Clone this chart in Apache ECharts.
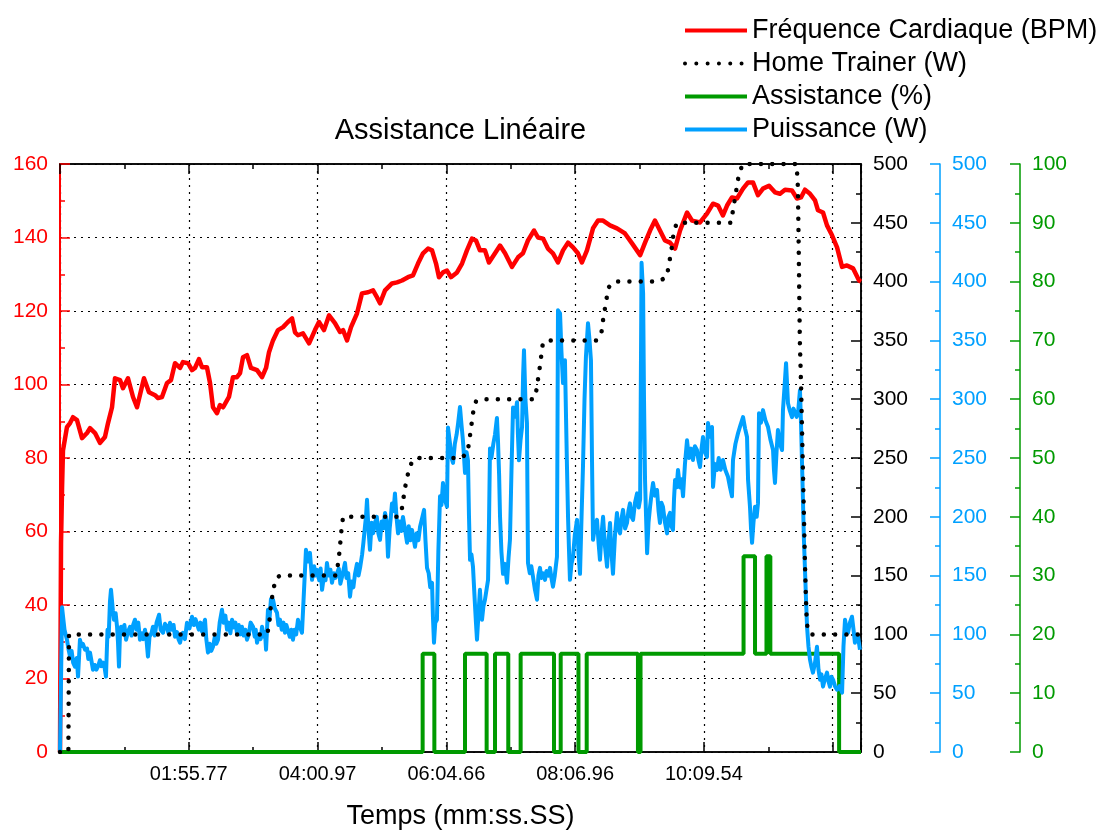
<!DOCTYPE html>
<html>
<head>
<meta charset="utf-8">
<title>Assistance Linéaire</title>
<script src="https://cdn.jsdelivr.net/npm/echarts@6/dist/echarts.min.js"></script>
<style>
  html, body { margin: 0; padding: 0; background: #fff; }
  #chart { width: 1107px; height: 835px; }
</style>
</head>
<body>
<div id="chart"></div>
<script>
// x values are sample indices; tick labels give the elapsed time at each major tick
const xTickLabels = ['', '01:55.77', '04:00.97', '06:04.66', '08:06.96', '10:09.54', ''];

// Fréquence cardiaque (BPM): [sample, bpm]
const heartRate = [
  [0, 0], [0.8, 57], [1.6, 72], [2.3, 82], [5.4, 88.4], [7.8, 89.5], [10.1, 91.1], [13.2, 90.3],
  [17.1, 85.4], [21, 86.8], [23.3, 88.1], [27.2, 86.8], [31.1, 84.1], [34.9, 85.7], [37.3, 89.5],
  [40.4, 93.8], [42.7, 101.7], [46.6, 101.2], [48.9, 99], [52.8, 101.7], [56.7, 96.6], [59.8, 93.8],
  [61.3, 93.8], [65.2, 101.7], [69.1, 97.9], [73.8, 97.1], [76.1, 96.3], [79.2, 96.6], [83.1, 100.4],
  [86.2, 101.2], [89.3, 105.8], [93.2, 104.5], [95.5, 106.1], [99.4, 105.8], [102.5, 103.9],
  [104.8, 104.5], [107.9, 106.9], [110.3, 104.7], [114.1, 104.7], [116.5, 100.4], [118.8, 93.8],
  [121.9, 92.2], [124.2, 94.4], [126.6, 93.8], [131.2, 96.6], [134.3, 102], [137.4, 102],
  [139.8, 103.1], [142.1, 107.4], [145.2, 108], [148.3, 104.5], [153, 103.9], [156.9, 102],
  [160, 104.5], [162.3, 108.8], [165.4, 112], [169.3, 114.8], [173.2, 115.6], [177, 117],
  [180.2, 118], [182.5, 114.2], [184.8, 113.4], [188.7, 113.9], [193.4, 111.2], [198, 114.8],
  [201.1, 117], [205, 114.8], [208.9, 118.8], [213.5, 116.7], [217.4, 114.3], [219.8, 114.8],
  [222.9, 112], [226, 115.6], [230.6, 119.3], [234.5, 124.8], [239.2, 125.1], [243.1, 125.6],
  [246.2, 123.7], [248.5, 122.1], [252.4, 125.6], [257.8, 127.5], [261.7, 127.8], [265.6, 128.3],
  [270.2, 129.2], [274.1, 129.7], [278, 132.9], [281.9, 135.7], [285.8, 137], [288.9, 136.5],
  [292, 132.9], [294.3, 129.2], [297.4, 130.5], [300.5, 131], [303.6, 129.2], [308.3, 130.5],
  [312.2, 132.9], [316, 136.5], [319.9, 139.7], [323, 139.2], [326.1, 136.5], [330, 136.5],
  [333.1, 133.2], [337.8, 135.7], [341.7, 137.8], [345.6, 135.7], [351, 132], [355.7, 134.6],
  [359.5, 135.7], [363.4, 139.2], [368.1, 141.9], [371.2, 140], [375.1, 139.7], [378.9, 137],
  [382.8, 135.7], [386.7, 133.2], [390.6, 136.5], [394.5, 138.6], [398.4, 137.3], [402.2, 135.7],
  [405.3, 133.2], [409.2, 136.5], [413.9, 142.5], [417.8, 144.6], [421.7, 144.6], [427.1, 143.3],
  [432.5, 142.5], [438.7, 141.1], [444.2, 138.4], [450.5, 135.2], [454.3, 138.6], [458.2, 141.9],
  [462, 144.6], [465.9, 141.9], [469.8, 139.2], [473.7, 138.6], [477.6, 137], [481.5, 141.9],
  [486.9, 146.8], [490.8, 144.6], [497, 144.1], [502.4, 146.5], [507.1, 149.2], [511, 148.7],
  [514.8, 146], [518, 148.7], [521.8, 150.9], [525.7, 150.6], [530.4, 153.3], [534.3, 155],
  [538.1, 155], [542, 151.5], [545.9, 153.3], [550.6, 154.1], [555.2, 152.3], [559.1, 151.9],
  [563, 153], [568.4, 152.8], [572.3, 150.6], [575.4, 150.9], [578.5, 153], [582.4, 151.9],
  [586.3, 150.1], [588.6, 147.4], [592.5, 146.8], [595.6, 143.3], [599.5, 140.6], [603.4, 137.3],
  [607.3, 132], [611.1, 132.4], [615.8, 131.6], [620.5, 128.3], [622, 128]
];

// Consigne du home trainer (W): [sample, watts]
const homeTrainer = [
  [0, 0], [6.5, 0], [7, 100], [161, 100], [162.5, 110], [164, 127], [166, 140], [168, 148], [170.8, 150],
  [214, 150], [215.5, 157], [217, 170], [218.5, 188], [219.8, 200],
  [262.5, 200], [265.5, 207], [267, 218], [268.5, 228], [270.5, 238], [273, 246], [276, 250],
  [312, 250], [316.5, 255], [318, 266], [319.5, 278], [321, 290], [323, 298], [326, 300],
  [368, 300], [370.5, 310], [371.5, 320], [373, 330], [374, 340], [375, 348], [378, 350],
  [417, 350], [420.5, 357], [421.5, 366], [423, 376], [424.5, 386], [426, 395], [430, 400],
  [465, 400], [471, 404], [472.5, 412], [474, 422], [475.5, 432], [476.5, 442], [479, 450],
  [521, 450], [522.5, 460], [524, 470], [525.5, 480], [527, 490], [530, 500],
  [572, 500], [573, 480], [573.5, 440], [574, 395], [574.5, 350], [575.5, 310], [576.5, 260],
  [577.5, 210], [578.5, 160], [579.5, 120], [580.5, 104], [583, 100], [622, 100]
];

// Niveau d'assistance (%): [sample, percent]
const assistance = [
  [0, 0], [281.6, 0], [281.6, 16.7], [290.7, 16.7], [290.7, 0],
  [314.5, 0], [314.5, 16.7], [331.3, 16.7], [331.3, 0],
  [337.8, 0], [337.8, 16.7], [348.1, 16.7], [348.1, 0],
  [357.7, 0], [357.7, 16.7], [383.6, 16.7], [383.6, 0],
  [388.8, 0], [388.8, 16.7], [402.6, 16.7], [402.6, 0],
  [409, 0], [409, 16.7], [448.8, 16.7], [448.8, 0], [450.8, 0], [450.8, 16.7],
  [530.8, 16.7], [530.8, 33.3], [539.7, 33.3], [539.7, 16.7],
  [548.6, 16.7], [548.6, 33.3], [551.6, 33.3], [551.6, 16.7],
  [605, 16.7], [605, 0], [622, 0]
];

// Puissance mesurée (W): [sample, watts]
const power = [
  [0, 0], [1.2, 0], [1.6, 123], [2.3, 122.6], [3.5, 104], [5.4, 95.5], [6.5, 88], [7.8, 81.1],
  [9, 86], [10.2, 76], [11.6, 72.6], [13, 80], [14, 64.1], [15.5, 95.5], [16.6, 90], [17.8, 92],
  [19.4, 87], [21, 88], [22, 79], [23.3, 84.5], [24.5, 77], [25.6, 70], [27, 74], [28.2, 70],
  [29.5, 72.6], [31, 78], [32.2, 73], [33.4, 76], [34.6, 72], [35.7, 64.1], [36.9, 104], [37.8, 98],
  [38.8, 128], [39.6, 138], [40.4, 137.9], [41.1, 120], [41.9, 112.5], [43.2, 118], [44.3, 106.5],
  [45, 94], [45.8, 72.6], [46.5, 98], [47.4, 106.5], [48.6, 101], [50, 108], [51.3, 95.5],
  [52.7, 102], [54.4, 106.5], [55.5, 99], [56.8, 108], [58.2, 112.5], [59.5, 104], [60.8, 110],
  [62.1, 95.5], [63.5, 101], [64.8, 96], [66, 104], [67.2, 95], [68.3, 81.1], [69.5, 98],
  [71, 101], [72.2, 106.5], [73.6, 99], [75, 110], [76.9, 116.7], [78.2, 104], [80, 101.4],
  [81.5, 109], [83.1, 106.5], [84.2, 101], [85.4, 109.9], [87, 104], [88.2, 108], [89.3, 98],
  [90.8, 102], [92, 96], [93.2, 92.9], [94.4, 99], [95.5, 101.4], [97, 96], [98.6, 110],
  [100.5, 105], [102.5, 115], [104, 108], [105.2, 113], [106.4, 112.5], [107.8, 104],
  [109, 110], [110.3, 102.3], [111.5, 108], [112.6, 112.5], [113.6, 96], [114.9, 84.5],
  [116.2, 92], [117.5, 86], [118.8, 89.5], [120.2, 98], [121.4, 92], [122.7, 95.5], [124, 110],
  [125.8, 121], [127, 110], [128.4, 116], [129.7, 104], [131, 110], [132.3, 101], [133.6, 112.5],
  [135, 106], [136.2, 110], [137.4, 101.4], [138.8, 108], [140, 100], [141.3, 106.5],
  [142.6, 99], [143.9, 104], [145.2, 95.5], [146.6, 100], [148, 110], [149.9, 106.5],
  [151.2, 98], [152, 104], [153, 92.9], [154.5, 100], [155.8, 96], [156.9, 106.5], [158.2, 98],
  [159.2, 102], [160, 87], [161.5, 121], [162.6, 112], [163.8, 130], [165.4, 129.5],
  [166.8, 122], [168.5, 118.4], [169.6, 108], [170.8, 112.5], [172.2, 104], [173.5, 110],
  [174.7, 101.4], [175.8, 108], [177, 106.5], [178.4, 98], [179.6, 104], [180.9, 95.5],
  [182, 104], [183.4, 100], [184.8, 112.5], [186.4, 106], [187.9, 101.4], [189.5, 137.9],
  [191, 171.9], [192.6, 162], [194.1, 169.3], [195.7, 146.4], [197.3, 158], [198.5, 150],
  [199.6, 154.9], [201.3, 146], [202.4, 156], [203.5, 137.9], [205, 150], [206.2, 146],
  [207.3, 160.8], [208.6, 150], [210, 155], [211.2, 143.9], [212.6, 152], [213.8, 148],
  [215.1, 146.4], [216.5, 156], [217.7, 143], [219, 149], [220.2, 155], [221.3, 160.8],
  [222.5, 148], [223.8, 152], [225.2, 132.1], [226.5, 145], [227.8, 140], [229.1, 151.5],
  [230.6, 160], [231.8, 150], [233, 156.6], [234.6, 168], [235.6, 178], [236.8, 191.5],
  [237.6, 200], [238.4, 214.4], [239.5, 190], [240.7, 171.9], [242, 195], [243.2, 186],
  [244.6, 194.8], [246, 200], [247.2, 186], [248.5, 180.4], [249.8, 196], [251, 190],
  [252.4, 203.3], [253.6, 196], [254.7, 166], [256, 190], [256.9, 200], [257.8, 211.4],
  [259, 205], [260.1, 219.9], [261.3, 200], [262.5, 185.9], [263.8, 196], [265, 188],
  [266.3, 199.9], [267.8, 190], [269.5, 177.9], [270.8, 192], [272, 180], [273.3, 188.9],
  [274.5, 182], [275.7, 174.5], [277, 186], [278.3, 180], [279.6, 191.5], [281, 198],
  [282.7, 205.9], [283.8, 180], [285, 156.6], [286.3, 152], [287.5, 140], [288.9, 143.9],
  [289.6, 115], [290.4, 92.9], [291.4, 110], [292.7, 112.5], [293.8, 170], [295.1, 217.4],
  [296.2, 210], [297.4, 228.8], [298.8, 215], [300.5, 208.5], [301.3, 276], [302.8, 262.8],
  [304, 250], [305.2, 245.8], [306.6, 262], [308, 270], [309.2, 280], [310.6, 293.3],
  [311.8, 278], [312.9, 265], [313.8, 250], [314.5, 237.3], [315.7, 255], [316.8, 248],
  [317.6, 200], [318.4, 163.4], [319.5, 168], [320.7, 157.5], [322, 130], [323, 110],
  [323.8, 95.5], [325, 118], [326.1, 137.9], [327, 120], [327.7, 112.5], [328.8, 124],
  [330, 129.5], [331.2, 138], [332.4, 146.4], [333.2, 200], [333.9, 258], [335, 250],
  [336.5, 262], [337.8, 270], [339.3, 284], [340.1, 265], [341, 235], [341.7, 200],
  [342.8, 170], [344, 151.5], [345.5, 160], [347.1, 143.9], [348.3, 165], [349.4, 180.4],
  [350.6, 240], [351.8, 293], [353.3, 285], [354.9, 297.5], [355.6, 270], [356.4, 248],
  [357.6, 265], [358.8, 276.3], [359.6, 320], [360.3, 341.7], [361.4, 300], [362.6, 279.7],
  [363, 220], [363.4, 160.8], [364.8, 152], [366, 158], [367.3, 149], [368.8, 138],
  [370.4, 129.5], [371.5, 150], [372.7, 156.6], [373.8, 148], [375.2, 152], [376.6, 146.4],
  [377.8, 154], [379.2, 150], [380.5, 156.6], [381.6, 148], [382.8, 140.5], [384.2, 150],
  [385.9, 166], [386.7, 375.6], [388.3, 373], [389.4, 340], [390.6, 313.7], [392.1, 333.2],
  [393.7, 242], [394.5, 200], [395.3, 170], [396, 146.4], [397.2, 160], [398.4, 166],
  [399.8, 185], [401.5, 197.4], [402.6, 170], [403.8, 151.5], [405, 200], [406.1, 242.4],
  [407.3, 300], [408.4, 336], [410, 364.6], [411.2, 350], [412.3, 333], [413.1, 250],
  [413.9, 180.4], [415.4, 192], [417, 197.4], [418.2, 178], [419.3, 163.4], [420.5, 185],
  [421.7, 200], [423.2, 175], [424.8, 157.5], [426, 180], [427.1, 194.8], [428.2, 170],
  [429.4, 151.5], [431, 185], [432.5, 203.3], [433.6, 190], [434.9, 185.9], [436, 198],
  [437.2, 205.9], [438.8, 190], [440.3, 194.8], [441.4, 205], [442.6, 211.4], [443.8, 200],
  [445, 197.4], [446.5, 212], [448.1, 219.9], [449.4, 208], [450.5, 215], [451.6, 416],
  [452.8, 390], [453.5, 300], [454.3, 231], [455.1, 200], [455.9, 169], [457, 195],
  [458.2, 208.5], [459.4, 220], [460.5, 228.8], [462, 218], [463.6, 222.8], [464.8, 205],
  [465.9, 194.8], [467, 212], [468.2, 208.5], [469.8, 195], [471.4, 185.9], [472.5, 200],
  [473.7, 203.3], [474.8, 192], [476, 188.9], [476.8, 215], [477.6, 231.3], [478.8, 225],
  [479.9, 239.8], [481.4, 225], [482.6, 232], [483.8, 217.4], [485.3, 245], [486.9, 265],
  [488.4, 250], [490, 258], [491.5, 248.3], [493, 260], [494.6, 256.8], [495.8, 248],
  [497, 242.4], [498.2, 258], [499.3, 267.8], [500.8, 255], [502.4, 250.8], [503.2, 279.7],
  [504.8, 268], [506.3, 276.3], [507.1, 225.4], [508.6, 245], [510.2, 239.8], [511.5, 250],
  [513, 240], [514.8, 248.3], [516.6, 240], [518.7, 234], [520.3, 225], [521.8, 217.4],
  [522.6, 248.3], [524.5, 262], [526.5, 271], [528.4, 278], [530.4, 284.8], [532, 275],
  [533.5, 267.8], [534.3, 231.3], [535.8, 208.5], [536.6, 190], [537.4, 177.9], [538.5, 195],
  [539.7, 208.5], [541, 200], [542, 211.4], [542.8, 288], [544.3, 280], [545.9, 290.7],
  [547.8, 282], [549.8, 276.3], [551.8, 265], [553.7, 256.8], [554.4, 240], [555.2, 228.8],
  [556.4, 255], [557.5, 273.8], [559.1, 262], [560.7, 256.8], [561.4, 290.7], [562.6, 310],
  [563.8, 330.6], [565.3, 296.6], [566.8, 290], [568.4, 284.8], [569.6, 292], [570.8, 293.3],
  [572, 285], [573.1, 288.2], [574.6, 307.7], [575.4, 280], [576.2, 245.8], [577.7, 180],
  [579.3, 130], [580.1, 106.5], [581.2, 90], [582.4, 78.5], [583.6, 72], [584.7, 67.5],
  [586.2, 75], [587.8, 89.5], [589, 70], [590.2, 61.5], [591.3, 66], [592.5, 55.6], [594, 62],
  [595.6, 67.5], [596.8, 60], [597.9, 55.6], [599, 64], [600.3, 61.5], [601.8, 56], [603.4, 53],
  [605.3, 56], [607.3, 50.5], [608.4, 90], [609.6, 112.5], [610.8, 104], [611.9, 101.4],
  [613.4, 110], [615, 115], [616.2, 104], [617.3, 92.9], [618.5, 100], [619.7, 98], [621.2, 87]
];

const FONT = '"Liberation Sans", Arial, sans-serif';
const RED = '#ff0000';
const BLUE = '#00a0ff';
const GREEN = '#009a00';
const BLACK = '#000000';

function sideAxis(color, max, interval, extra) {
  return Object.assign({
    type: 'value',
    min: 0,
    max: max,
    interval: interval,
    axisLine: { show: true, onZero: false, lineStyle: { color: color, width: 1.5 } },
    axisTick: { show: true, inside: true, length: 10, lineStyle: { color: color, width: 1.5 } },
    minorTick: { show: true, splitNumber: 2, length: 5, lineStyle: { color: color, width: 1.5 } },
    axisLabel: { color: color, fontSize: 21, fontFamily: FONT, margin: 12 },
    splitLine: { show: false }
  }, extra);
}

const chart = echarts.init(document.getElementById('chart'), null, { renderer: 'canvas' });

chart.setOption({
  animation: false,
  backgroundColor: '#ffffff',
  textStyle: { fontFamily: FONT },
  graphic: [{
    type: 'text',
    x: 460.5,
    y: 131,
    style: {
      text: 'Assistance Linéaire',
      fill: BLACK,
      font: '29px ' + FONT,
      textAlign: 'center',
      textVerticalAlign: 'middle'
    }
  }],
  legend: {
    orient: 'vertical',
    left: 683,
    top: 14,
    padding: 0,
    itemGap: 0,
    itemWidth: 62,
    itemHeight: 14,
    selectedMode: false,
    itemStyle: { opacity: 0 },
    lineStyle: { width: 4 },
    textStyle: { fontSize: 27, color: BLACK, fontFamily: FONT, lineHeight: 33 },
    data: ['Fréquence Cardiaque (BPM)', 'Home Trainer (W)', 'Assistance (%)', 'Puissance (W)']
  },
  grid: {
    left: 60, right: 246, top: 164, bottom: 82.5,
    show: true, borderColor: BLACK, borderWidth: 1.5, backgroundColor: 'transparent'
  },
  xAxis: [{
    type: 'value',
    position: 'bottom',
    min: 0, max: 622, interval: 100,
    axisLine: { show: true, onZero: false, lineStyle: { color: BLACK, width: 1.5 } },
    axisTick: { show: true, inside: true, length: 10, lineStyle: { color: BLACK, width: 1.5 } },
    minorTick: { show: true, splitNumber: 2, length: 5, lineStyle: { color: BLACK, width: 1.5 } },
    axisLabel: {
      color: BLACK, fontSize: 20, fontFamily: FONT, margin: 12,
      formatter: function (v) { return xTickLabels[Math.round(v / 100)] || ''; }
    },
    splitLine: { show: true, lineStyle: { color: BLACK, width: 1.2, type: [2, 5] } },
    name: 'Temps (mm:ss.SS)',
    nameLocation: 'middle',
    nameGap: 51,
    nameTextStyle: { fontSize: 27, color: BLACK, fontFamily: FONT }
  }, {
    type: 'value',
    position: 'top',
    min: 0, max: 622, interval: 100,
    axisLine: { show: true, onZero: false, lineStyle: { color: BLACK, width: 1.5 } },
    axisTick: { show: true, inside: true, length: 10, lineStyle: { color: BLACK, width: 1.5 } },
    minorTick: { show: true, splitNumber: 2, length: 5, lineStyle: { color: BLACK, width: 1.5 } },
    axisLabel: { show: false },
    splitLine: { show: false }
  }],
  yAxis: [
    sideAxis(RED, 160, 20, {
      position: 'left',
      axisLine: { show: true, onZero: false, lineStyle: { color: RED, width: 2 } },
      splitLine: { show: true, lineStyle: { color: BLACK, width: 1.2, type: [2, 5] } }
    }),
    sideAxis(BLACK, 500, 50, { position: 'right', offset: 0 }),
    sideAxis(BLUE, 500, 50, { position: 'right', offset: 79 }),
    sideAxis(GREEN, 100, 10, { position: 'right', offset: 159 })
  ],
  series: [{
    name: 'Fréquence Cardiaque (BPM)',
    type: 'line',
    xAxisIndex: 0, yAxisIndex: 0,
    data: heartRate,
    symbol: 'none',
    lineStyle: { color: RED, width: 4.5, join: 'round' },
    itemStyle: { color: RED },
    z: 2
  }, {
    name: 'Home Trainer (W)',
    type: 'line',
    xAxisIndex: 0, yAxisIndex: 1,
    data: homeTrainer,
    symbol: 'none',
    lineStyle: { color: BLACK, width: 4.5, type: [0.01, 11.3], cap: 'round' },
    itemStyle: { color: BLACK },
    z: 5
  }, {
    name: 'Assistance (%)',
    type: 'line',
    xAxisIndex: 0, yAxisIndex: 3,
    data: assistance,
    symbol: 'none',
    lineStyle: { color: GREEN, width: 4 },
    itemStyle: { color: GREEN },
    z: 3
  }, {
    name: 'Puissance (W)',
    type: 'line',
    xAxisIndex: 0, yAxisIndex: 2,
    data: power,
    symbol: 'none',
    lineStyle: { color: BLUE, width: 4, join: 'round' },
    itemStyle: { color: BLUE },
    z: 4
  }]
});
</script>
</body>
</html>
